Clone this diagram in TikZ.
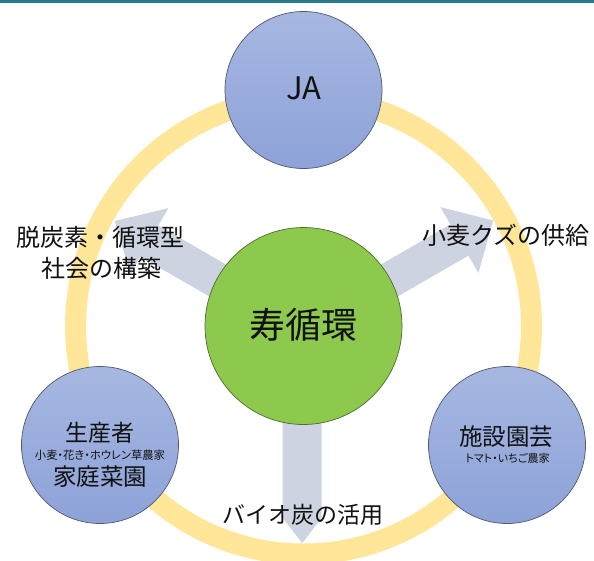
\documentclass[tikz,border=0pt]{standalone}
\usepackage{fontspec}
\newfontfamily\jp{Noto Sans CJK JP}
\newfontfamily\jpp[RawFeature=+palt]{Noto Sans CJK JP}
\definecolor{ringcol}{HTML}{FFE699}
\definecolor{arrcol}{HTML}{CDD3E0}
\definecolor{bluetop}{HTML}{A6B7E1}
\definecolor{bluebot}{HTML}{8DA2D8}
\definecolor{bluedraw}{HTML}{50586E}
\definecolor{greenfill}{HTML}{8DC94D}
\definecolor{greendraw}{HTML}{4F6A33}
\definecolor{barcol}{HTML}{267B8D}
\definecolor{txt}{HTML}{111111}
\begin{document}
\begin{tikzpicture}[x=1pt,y=-1pt,
  partner/.style={circle, draw=bluedraw, line width=0.7pt, top color=bluetop, bottom color=bluebot, minimum size=157pt, inner sep=0pt},
  hub/.style={circle, draw=greendraw, line width=0.7pt, fill=greenfill, minimum size=197pt, inner sep=0pt},
  blockarrow/.style={fill=arrcol},
  lbl/.style={inner sep=0pt, text=txt, align=center}]
\useasboundingbox (0,0) rectangle (594,560);
\fill[white] (0,0) rectangle (594,560);
\fill[barcol] (0,0) rectangle (594,2.7);
\coordinate (C) at (303.5,326);
\draw[ringcol, line width=21pt] (C) circle[radius=228pt];
% upper-right arrow
\begin{scope}[shift={(303.5,326)}, rotate=30]
\fill[blockarrow] (60,-14.5) -- (178,-14.5) -- (178,-34.5) -- (217,3.5) -- (178,41.5) -- (178,21.5) -- (60,21.5) -- cycle;
\end{scope}
% upper-left arrow
\begin{scope}[shift={(303.5,326)}, rotate=150]
\fill[blockarrow] (60,-21.5) -- (176,-21.5) -- (176,-41.5) -- (216,-3.5) -- (176,34.5) -- (176,14.5) -- (60,14.5) -- cycle;
\end{scope}
% down arrow
\begin{scope}[shift={(303.5,326)}, rotate=-90]
\fill[blockarrow] (60,-18.2) -- (192,-18.2) -- (217,1.3) -- (192,20.8) -- (60,20.8) -- cycle;
\end{scope}
\node[hub] (hub) at (C) {};
\node[partner] (ja) at (303.5,90) {};
\node[partner] (prod) at (100,445) {};
\node[partner] (hort) at (507,445) {};
% texts
\node[lbl, font=\jp\fontsize{36pt}{40pt}\selectfont] (thub) at (303.5,325) {寿循環};
\node[lbl, font=\jp\fontsize{31pt}{36pt}\selectfont] (tja) at (304,88) {JA};
\node[lbl, font=\jp\fontsize{24pt}{30pt}\selectfont] (tl1) at (100.5,237) {脱炭素・循環型};
\node[lbl, font=\jp\fontsize{24pt}{30pt}\selectfont] (tl2) at (101,268) {社会の構築};
\node[lbl, font=\jp\fontsize{24pt}{30pt}\selectfont] (tr) at (506,235) {小麦クズの供給};
\node[lbl, font=\jp\fontsize{23pt}{30pt}\selectfont] (tb) at (302.5,515) {バイオ炭の活用};
\node[lbl, font=\jp\fontsize{23pt}{28pt}\selectfont] (tp1) at (100,433) {生産者};
\node[lbl, font=\jpp\fontsize{11.3pt}{13pt}\selectfont] (tp2) at (100,455) {小麦・花き・ホウレン草農家};
\node[lbl, font=\jp\fontsize{23.5pt}{28pt}\selectfont] (tp3) at (100,477) {家庭菜園};
\node[lbl, font=\jp\fontsize{23.5pt}{28pt}\selectfont] (th1) at (506,437) {施設園芸};
\node[lbl, font=\jpp\fontsize{11pt}{13pt}\selectfont] (th2) at (507.5,458) {トマト・いちご農家};
\end{tikzpicture}
\end{document}
